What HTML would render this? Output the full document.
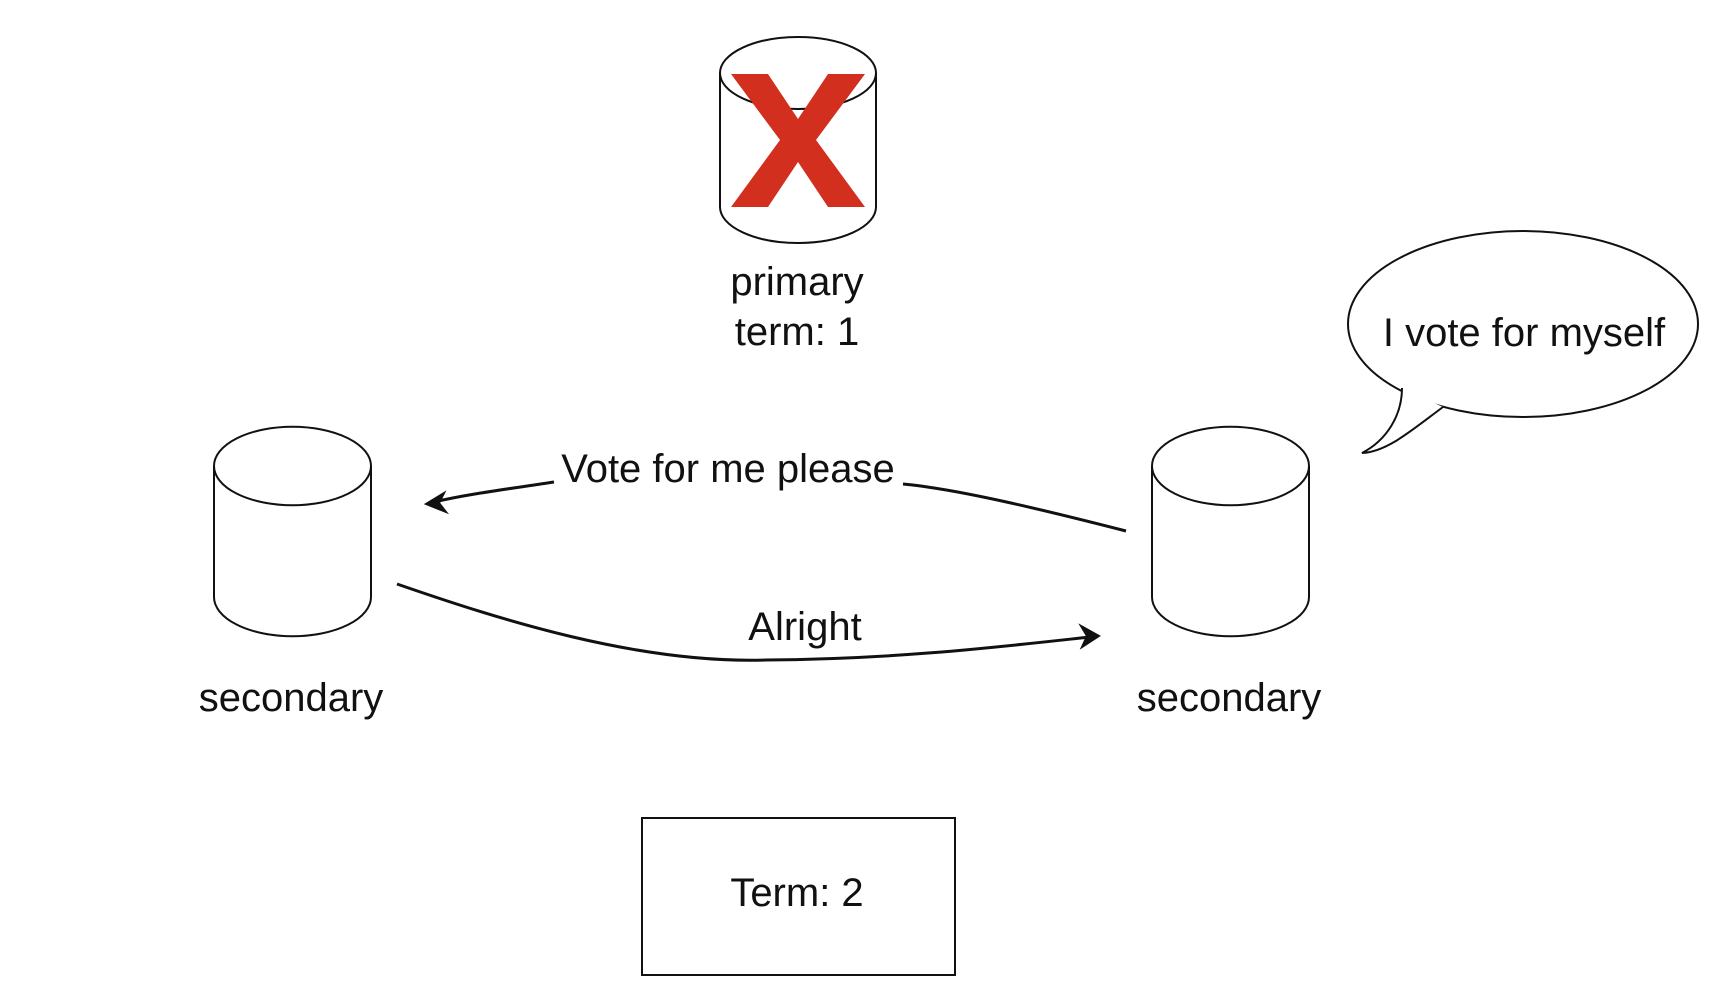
<!DOCTYPE html>
<html><head><style>
html,body{margin:0;padding:0;background:#fff;}
svg{display:block;}
text{font-family:"Liberation Sans",Arial,sans-serif;font-size:40px;fill:#111;}
</style></head><body>
<svg width="1712" height="988" viewBox="0 0 1712 988" xmlns="http://www.w3.org/2000/svg">
<g transform="translate(-2,-1)">
<g fill="#fff" stroke="#111" stroke-width="2">
<path d="M722,74 A78,36 0 0 1 878,74 L878,208 A78,36 0 0 1 722,208 Z"/>
<path d="M722,74 A78,36 0 0 0 878,74" fill="none"/>
<path d="M216,467 A78,39 0 0 1 373,467 L373,598 A78,39 0 0 1 216,598 Z"/>
<path d="M216,467 A78,39 0 0 0 373,467" fill="none"/>
<path d="M1154,467 A78,39 0 0 1 1311,467 L1311,598 A78,39 0 0 1 1154,598 Z"/>
<path d="M1154,467 A78,39 0 0 0 1311,467" fill="none"/>
<rect x="644" y="819" width="313" height="157"/>
</g>
<polygon fill="#d22f1f" points="733,75 770,75 800,120 830,75 867,75 818,141 867,208 830,208 800,163 770,208 733,208 782,141"/>
<g fill="none" stroke="#111" stroke-width="3">
<path d="M1128,532 C1050,512 960,490 905,485"/>
<path d="M556,483 C510,490 470,495 436,503"/>
<path d="M399,585 C500,620 640,665 768,661 C900,660 1000,648 1092,638"/>
</g>
<path d="M428,505 L446,494 L441,504 L448,513 Z" fill="#111" stroke="#111" stroke-width="2"/>
<path d="M1101,637 L1083,627 L1089,637 L1084,648 Z" fill="#111" stroke="#111" stroke-width="2"/>
<g text-anchor="middle" dominant-baseline="central">
<text x="799" y="283">primary</text>
<text x="799" y="333">term: 1</text>
<text x="293" y="699">secondary</text>
<text x="1231" y="699">secondary</text>
<text x="730" y="470">Vote for me please</text>
<text x="807" y="628">Alright</text>
<text x="799" y="894">Term: 2</text>
</g>
</g>
<g transform="translate(-8,0)">
<ellipse cx="1531" cy="324" rx="175" ry="93" fill="#fff" stroke="#111" stroke-width="2"/>
<path d="M1410,388 C1410,415 1395,440 1370,453 C1395,452 1420,430 1451,407" fill="#fff" stroke="#111" stroke-width="2"/>
<path d="M1411,385 C1420,395 1440,402 1450,404 L1452,400 C1440,395 1420,390 1411,382 Z" fill="#fff" stroke="none"/>
<path d="M1412,386 L1449,404 L1440,395 Z" fill="#fff" stroke="none"/>
<text x="1532" y="333" text-anchor="middle" dominant-baseline="central">I vote for myself</text>
</g>
</svg>
</body></html>
